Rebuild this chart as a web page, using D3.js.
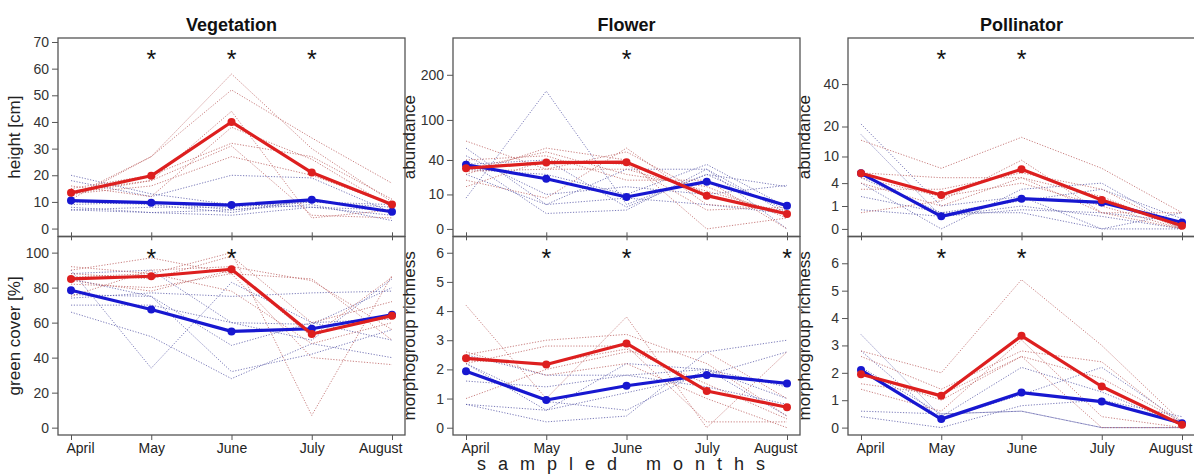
<!DOCTYPE html>
<html>
<head>
<meta charset="utf-8">
<script src="https://cdn.jsdelivr.net/npm/d3@7"></script>
<style>
  body { margin: 0; background: #fff; }
  svg { font-family: "Liberation Sans", Arial, sans-serif; }
</style>
</head>
<body>
<svg id="chart" width="1194" height="475"></svg>
<script>
const svg = d3.select('#chart');

const months = ["April", "May", "June", "July", "August"];
const titles = ["Vegetation", "Flower", "Pollinator"];

// mean lines (red = treatment, blue = control)
const vegHeightRed = [13.4, 19.8, 40, 21, 9];
const vegHeightBlue = [10.5, 9.7, 8.8, 10.8, 6.3];
const vegCoverRed = [85, 86.5, 90.5, 53.5, 64];
const vegCoverBlue = [78.5, 67.5, 55, 56.5, 64.5];
const flowAbunRed = [31, 37, 37.5, 9.3, 1.9];
const flowAbunBlue = [34.7, 21.2, 8.6, 18.8, 4.5];
const flowRichRed = [2.38, 2.17, 2.89, 1.26, 0.70];
const flowRichBlue = [1.94, 0.95, 1.44, 1.81, 1.52];
const pollAbunRed = [5.9, 2.2, 6.8, 1.6, 0.02];
const pollAbunBlue = [5.9, 0.3, 1.74, 1.34, 0.08];
const pollRichRed = [1.95, 1.16, 3.35, 1.5, 0.1];
const pollRichBlue = [2.1, 0.31, 1.28, 0.95, 0.16];

// single sites (thin dotted lines)
const vegHeightSitesRed = [[12, 27, 58, 30, 10], [11, 27, 52, 34, 17], [15, 20, 32, 27, 11], [14, 18, 31, 5, 4], [13, 16, 27, 20, 9], [16, 12, 38, 26, 8], [13, 18, 44, 4, 7]];
const vegHeightSitesBlue = [[20, 13, 9, 8, 5], [18, 12, 20, 19, 6], [8, 6, 7, 9, 3], [10, 9, 6, 11, 6], [7, 6, 5, 8, 7], [9, 10, 7, 10, 9], [7, 8, 8, 10, 8]];
const vegCoverSitesRed = [[90, 97, 88, 85, 50], [92, 88, 100, 7, 87], [88, 85, 98, 60, 72], [75, 90, 92, 84, 56], [82, 80, 88, 40, 36], [84, 78, 90, 52, 86], [86, 88, 78, 48, 60]];
const vegCoverSitesBlue = [[66, 52, 28, 48, 40], [90, 34, 83, 60, 50], [85, 75, 32, 42, 56], [74, 77, 75, 77, 78], [88, 90, 60, 59, 80], [70, 70, 60, 50, 85], [76, 75, 47, 60, 62]];
const flowAbunSitesRed = [[65, 30, 50, 10, 2], [25, 55, 40, 0, 1], [20, 8, 55, 5, 3], [40, 45, 20, 20, 0], [15, 40, 35, 3, 4], [30, 50, 25, 15, 1], [28, 30, 30, 12, 2]];
const flowAbunSitesBlue = [[8, 160, 5, 25, 15], [55, 5, 30, 30, 0], [40, 2, 3, 30, 2], [30, 25, 10, 35, 4], [45, 10, 15, 10, 16], [35, 40, 4, 25, 3], [25, 5, 8, 5, 2]];
const flowRichSitesRed = [[4.2, 1.0, 3.8, 0, 2.6], [2.5, 3.0, 3.2, 2.2, 0.4], [2.2, 2.8, 2.8, 0.2, 0.2], [1.0, 2.0, 2.6, 2.6, 1.0], [2.6, 1.8, 2.2, 1.0, 0], [2.3, 2.2, 2.7, 1.5, 0.3]];
const flowRichSitesBlue = [[0.8, 0.2, 0.4, 2.6, 3.0], [1.6, 1.4, 1.8, 2.0, 1.0], [2.2, 0.6, 1.2, 1.8, 2.6], [0.8, 0.6, 2.2, 2.0, 0.4], [2.5, 1.8, 1.8, 1.4, 0.8], [2.2, 0.9, 0.6, 2.0, 1.4]];
const pollAbunSitesRed = [[15, 7, 16, 7, 0.5], [6, 5, 5, 2, 0], [3, 3, 6, 3, 0], [0.5, 1.5, 9, 0.5, 0], [4, 1, 5, 0.5, 0.5], [5, 2, 4, 1, 0]];
const pollAbunSitesBlue = [[21, 1, 2, 0, 0.5], [17, 0.3, 1, 0.3, 0], [4, 0, 3, 4, 0], [0.7, 0.3, 0.7, 0.5, 0.1], [2, 0.5, 1.5, 3, 0.2], [5, 0.5, 0.5, 0, 0]];
const pollRichSitesRed = [[2.8, 2.0, 5.4, 3.0, 0.2], [2.6, 1.4, 2.8, 2.4, 0.1], [1.6, 1.2, 2.6, 0, 0], [1.4, 0.6, 3.2, 0.4, 0], [2.0, 1.0, 2.6, 1.8, 0.2]];
const pollRichSitesBlue = [[3.4, 0.4, 2.2, 1.3, 0.1], [0.6, 0.5, 0.6, 0.0, 0.0], [0.4, 0.0, 0.8, 1.0, 0.4], [2.8, 0.3, 1.2, 2.2, 0.2], [2.2, 0.5, 0.6, 0.0, 0.0]];

// significant months
const vegHeightStars = ["May", "June", "July"];
const vegCoverStars = ["May", "June"];
const flowAbunStars = ["June"];
const flowRichStars = ["May", "June", "August"];
const pollAbunStars = ["May", "June"];
const pollRichStars = ["May", "June"];

const vegHeightTicks = [0, 10, 20, 30, 40, 50, 60, 70];
const vegCoverTicks = [0, 20, 40, 60, 80, 100];
const flowAbunTicks = [0, 10, 40, 100, 200];
const pollAbunTicks = [0, 1, 4, 10, 20, 40];
const richTicks = [0, 1, 2, 3, 4, 5, 6];

const RED = '#dd1f1f', BLUE = '#1717d0';
const colLeft = [58, 453, 848];
const panelW = 347;
const rowTop = [38, 236.7];
const panelH = 198.3;

const panels = [
  {col: 0, row: 0, ylab: 'height [cm]', scale: d3.scaleLinear().domain([-2.9, 71.5]), ticks: vegHeightTicks,
   red: vegHeightRed, blue: vegHeightBlue, sr: vegHeightSitesRed, sb: vegHeightSitesBlue, stars: vegHeightStars},
  {col: 0, row: 1, ylab: 'green cover [%]', scale: d3.scaleLinear().domain([-4.2, 109.1]), ticks: vegCoverTicks,
   red: vegCoverRed, blue: vegCoverBlue, sr: vegCoverSitesRed, sb: vegCoverSitesBlue, stars: vegCoverStars},
  {col: 1, row: 0, ylab: 'abundance', scale: d3.scalePow().exponent(0.5).domain([-0.46, 306.9]), ticks: flowAbunTicks,
   red: flowAbunRed, blue: flowAbunBlue, sr: flowAbunSitesRed, sb: flowAbunSitesBlue, stars: flowAbunStars},
  {col: 1, row: 1, ylab: 'morphogroup richness', scale: d3.scaleLinear().domain([-0.25, 6.55]), ticks: richTicks,
   red: flowRichRed, blue: flowRichBlue, sr: flowRichSitesRed, sb: flowRichSitesBlue, stars: flowRichStars},
  {col: 2, row: 0, ylab: 'abundance', scale: d3.scalePow().exponent(0.5).domain([-0.104, 69.5]), ticks: pollAbunTicks,
   red: pollAbunRed, blue: pollAbunBlue, sr: pollAbunSitesRed, sb: pollAbunSitesBlue, stars: pollAbunStars},
  {col: 2, row: 1, ylab: 'morphogroup richness', scale: d3.scaleLinear().domain([-0.27, 6.97]), ticks: richTicks,
   red: pollRichRed, blue: pollRichBlue, sr: pollRichSitesRed, sb: pollRichSitesBlue, stars: pollRichStars}
];

panels.forEach(p => {
  const left = colLeft[p.col], top = rowTop[p.row];
  const x = d3.scalePoint().domain(months).range([left + 13, left + panelW - 13]);
  const y = p.scale.range([top + panelH, top]);
  const g = svg.append('g');

  const line = d3.line().x((d, i) => x(months[i])).y(d => y(d));

  // thin site lines
  p.sb.forEach(s => g.append('path').attr('d', line(s)).attr('fill', 'none')
    .attr('stroke', '#5a5aa8').attr('stroke-width', 1).attr('stroke-dasharray', '1.2,1.6').attr('opacity', 0.8));
  p.sr.forEach(s => g.append('path').attr('d', line(s)).attr('fill', 'none')
    .attr('stroke', '#bb6060').attr('stroke-width', 1).attr('stroke-dasharray', '1.2,1.6').attr('opacity', 0.8));

  // mean lines
  [[p.blue, BLUE], [p.red, RED]].forEach(([vals, c]) => {
    g.append('path').attr('d', line(vals)).attr('fill', 'none')
      .attr('stroke', c).attr('stroke-width', 3.2).attr('stroke-linejoin', 'round');
    g.selectAll(null).data(vals).enter().append('circle')
      .attr('cx', (d, i) => x(months[i])).attr('cy', d => y(d)).attr('r', 4).attr('fill', c);
  });

  // frame
  g.append('rect').attr('x', left).attr('y', top).attr('width', panelW).attr('height', panelH)
    .attr('fill', 'none').attr('stroke', '#555').attr('stroke-width', 1.3);

  // y axis
  const ya = g.append('g').attr('transform', `translate(${left},0)`)
    .call(d3.axisLeft(y).tickValues(p.ticks).tickSize(6).tickPadding(3).tickFormat(d3.format('d')));
  ya.select('.domain').remove();
  ya.selectAll('line').attr('stroke', '#555');
  ya.selectAll('text').attr('font-size', 14).attr('fill', '#333').attr('font-family', '"Liberation Sans", Arial, sans-serif');

  // x ticks
  const bottom = top + panelH;
  const xa = g.append('g').attr('transform', `translate(0,${bottom})`)
    .call(d3.axisBottom(x).tickSize(p.row === 1 ? 5 : 4).tickPadding(3).tickFormat(p.row === 1 ? d => d : ''));
  xa.select('.domain').remove();
  xa.selectAll('line').attr('stroke', '#555').attr('y1', p.row === 0 ? -4 : 0);
  xa.selectAll('text').attr('font-size', 14).attr('fill', '#222').attr('font-family', '"Liberation Sans", Arial, sans-serif')
    .attr('text-anchor', d => d === 'April' ? 'start' : d === 'August' ? 'end' : 'middle')
    .attr('x', d => d === 'April' ? -5 : d === 'August' ? 10 : 0);

  // y label
  g.append('text').attr('transform', `translate(${left - 38},${top + panelH / 2}) rotate(-90)`)
    .attr('text-anchor', 'middle').attr('font-size', 17).attr('fill', '#222').text(p.ylab);

  // significance stars
  g.selectAll(null).data(p.stars).enter().append('text')
    .attr('x', d => x(d)).attr('y', top + 30).attr('text-anchor', 'middle')
    .attr('font-size', 25).attr('fill', '#111').text('*');

  if (p.row === 0) {
    svg.append('text').attr('x', x('June')).attr('y', 31).attr('text-anchor', 'middle')
      .attr('font-size', 18).attr('font-weight', 'bold').attr('fill', '#111').text(titles[p.col]);
  }
});

svg.append('text').attr('x', 627).attr('y', 470).attr('text-anchor', 'middle')
  .attr('font-size', 18).attr('letter-spacing', 12).attr('fill', '#222').text('sampled months');
</script>
</body>
</html>
